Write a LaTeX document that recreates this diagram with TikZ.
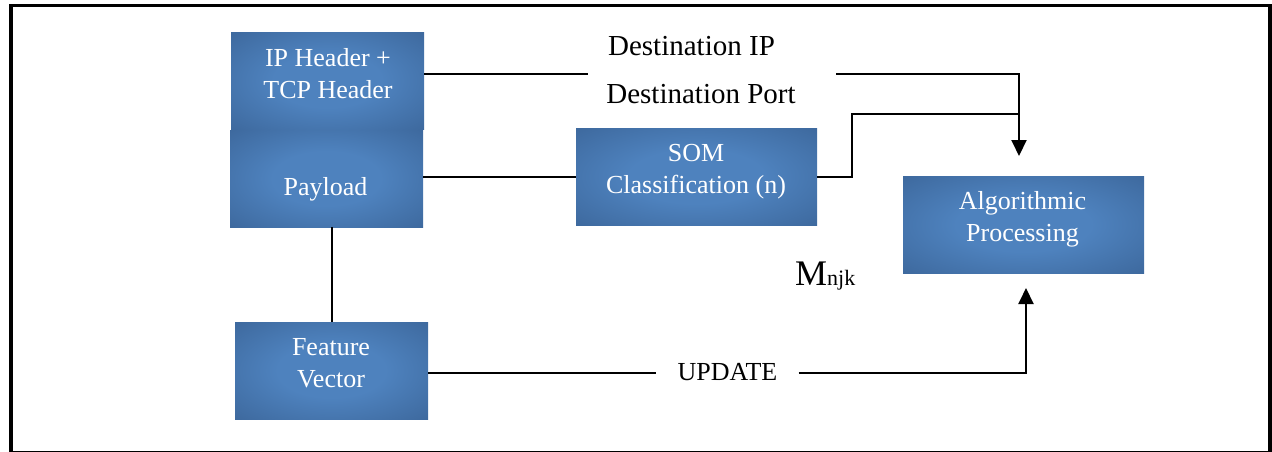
\documentclass[tikz,border=0pt]{standalone}
\usepackage{fontspec}
\setmainfont{Liberation Serif}
\usetikzlibrary{arrows.meta,calc}

\definecolor{boxin}{RGB}{78,130,190}
\definecolor{boxout}{RGB}{55,95,145}

% soft glow: light centre fading to a darker rim
\pgfdeclareradialshading{boxglow}{\pgfpoint{0bp}{0bp}}{%
  color(0bp)=(boxin); color(14bp)=(boxin); color(44bp)=(boxout); color(100bp)=(boxout)}

\begin{document}
\begin{tikzpicture}[x=1pt,y=-1pt,
  box/.style={rectangle, inner sep=0pt, shading=boxglow,
              minimum width=193pt, minimum height=97pt},
  widebox/.style={box, minimum width=241pt},
  boxlbl/.style={text=white, align=center, inner sep=0pt,
                 font=\fontsize{26}{32}\selectfont},
  plainlbl/.style={text=black, inner sep=0pt,
                   font=\fontsize{29}{32}\selectfont},
  conn/.style={draw=black, line width=2pt},
  tip/.style={-{Triangle[width=15pt,length=16pt]}}]

\useasboundingbox (0,0) rectangle (1272,451);

% outer frame
\draw[line width=3.5pt] (11,5.5) rectangle (1270,452.5);

% blocks
\node[box]     (ip)  at (327.5,80.5)  {};
\node[box]     (pl)  at (326.5,178.5) {};
\node[widebox] (som) at (696.5,176.5) {};
\node[widebox] (alg) at (1023.5,224.5) {};
\node[box]     (fv)  at (331.5,370.5) {};

% block captions
\node[boxlbl] (ipT)  at (328,73.5)    {IP Header +\\TCP Header};
\node[boxlbl] (plT)  at (325.5,189.5) {Payload};
\node[boxlbl] (somT) at (696,171.5)   {SOM\\Classification (n)};
\node[boxlbl] (algT) at (1022.5,219.5){Algorithmic\\Processing};
\node[boxlbl] (fvT)  at (331,363)     {Feature\\Vector};

% free labels
\node[plainlbl] (dip)   at (691.5,46.3) {Destination IP};
\node[plainlbl] (dport) at (701,94)     {Destination Port};
\node[inner sep=0pt, anchor=base west] (mnjk) at (795,285)
  {{\fontsize{36}{36}\selectfont M}{\fontsize{22}{22}\selectfont njk}};
\node[text=black, inner ysep=0pt, inner xsep=21pt,
      font=\fontsize{26}{30}\selectfont] (upd) at (727.5,372.5) {UPDATE};

% routing points
\coordinate (g1) at (588,74);
\coordinate (g2) at (836,74);
\coordinate (t1) at (1019,156);
\coordinate (j1) at (1019,114);
\coordinate (t2) at (1026,288);

% connectors
\draw[conn] (ip.east |- g1) -- (g1);
\draw[conn,tip] (g2) -| (t1);
\draw[conn] (som.east) -- ++(35,0) |- (j1);
\draw[conn] (som.west -| pl.east) -- (som.west);
\draw[conn] (fv.north |- pl.south) -- (fv.north);
\draw[conn] (fv.east |- upd.west) -- (upd.west);
\draw[conn,tip] (upd.east) -| (t2);
\end{tikzpicture}
\end{document}
